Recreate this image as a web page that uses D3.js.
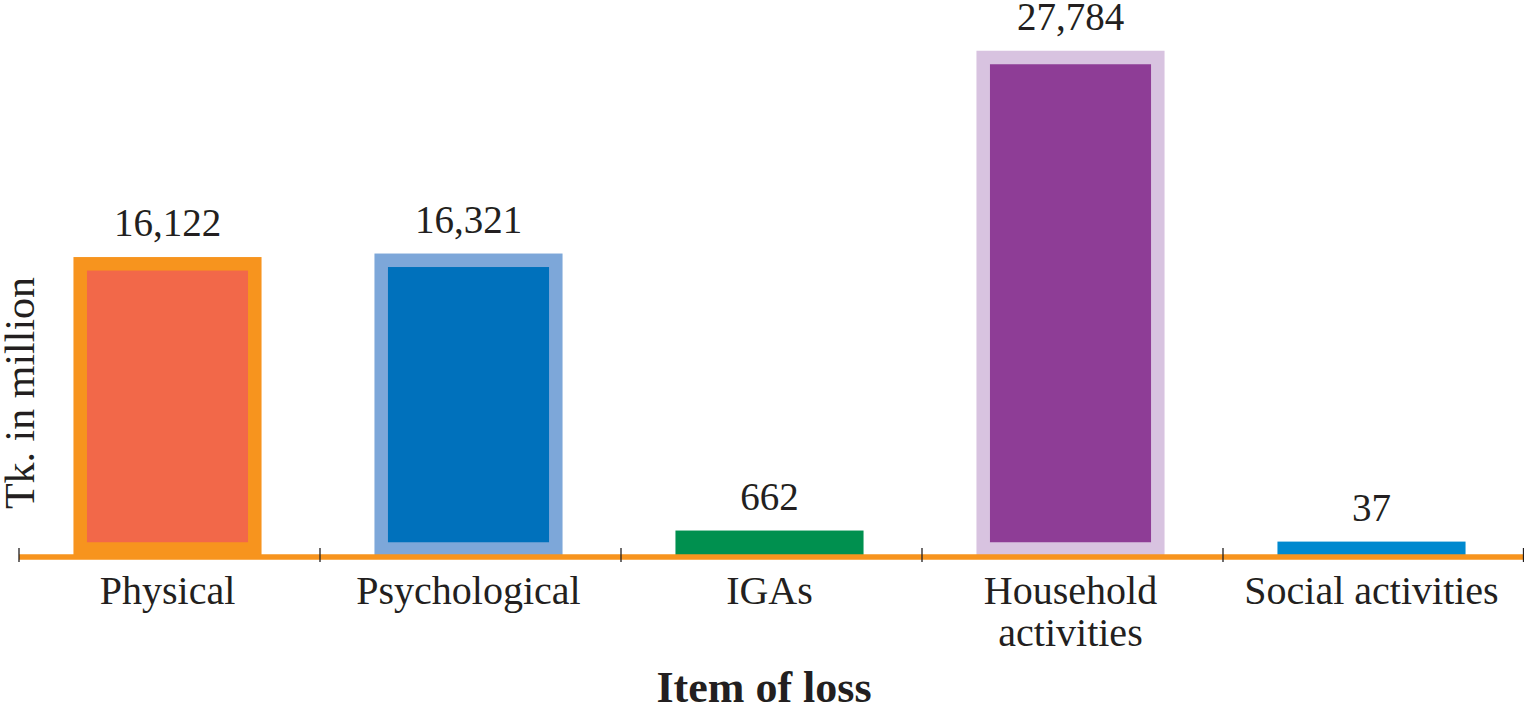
<!DOCTYPE html>
<html>
<head>
<meta charset="utf-8">
<script src="https://cdn.jsdelivr.net/npm/d3@7"></script>
<style>
  body { margin: 0; background: #fff; }
  svg text { font-family: "Liberation Serif", "Times New Roman", serif; fill: #231f20; }
</style>
</head>
<body>
<svg width="1524" height="708"></svg>
<script>
// data
let categories = ["Physical", "Psychological", "IGAs", "Household activities", "Social activities"];
let values = [16122, 16321, 662, 27784, 37];
// category labels split into lines as in the figure
let labelLines = [["Physical"], ["Psychological"], ["IGAs"], ["Household", "activities"], ["Social activities"]];

// colours per bar: fill and outline
let fills = ["#f26849", "#0071bc", "#00904f", "#8e3d96", "#0089cf"];
let outlines = ["#f7941e", "#7da7d9", "#00904f", "#d8c3e0", "#0089cf"];

let svg = d3.select("svg"),
    strokeW = 13.5,
    baseY = 549;

let x = d3.scaleBand()
  .domain(categories)
  .range([17, 1522])
  .paddingInner(0.42)
  .paddingOuter(0.21);

let y = d3.scaleLinear()
  .domain([0, 27784])
  .range([baseY, 57.5]);

let rows = categories.map(function(c, i) {
  return { cat: c, value: values[i], lines: labelLines[i], fill: fills[i], stroke: outlines[i] };
});

// bars
svg.append("g").selectAll("rect")
  .data(rows)
  .enter().append("rect")
  .attr("x", function(d) { return x(d.cat); })
  .attr("y", function(d) { return y(d.value); })
  .attr("width", x.bandwidth())
  .attr("height", function(d) { return baseY - y(d.value); })
  .attr("fill", function(d) { return d.fill; })
  .attr("stroke", function(d) { return d.stroke; })
  .attr("stroke-width", strokeW);

// value labels
svg.append("g").selectAll("text")
  .data(rows)
  .enter().append("text")
  .attr("x", function(d) { return x(d.cat) + x.bandwidth() / 2; })
  .attr("y", function(d) { return y(d.value) - strokeW / 2 - 21; })
  .attr("text-anchor", "middle")
  .style("font-size", "39px")
  .text(function(d) { return d3.format(",")(d.value); });

// axis line and ticks
let step = x.step(),
    gap = (step - x.bandwidth()) / 2;

svg.append("line")
  .attr("x1", 19).attr("x2", 1524)
  .attr("y1", 557).attr("y2", 557)
  .attr("stroke", "#f7941e")
  .attr("stroke-width", 5.5);

let tickXs = categories.map(function(c) { return x(c) - gap + 2; });
tickXs.push(1523.5);

svg.append("g").selectAll("line")
  .data(tickXs)
  .enter().append("line")
  .attr("x1", function(d) { return d; })
  .attr("x2", function(d) { return d; })
  .attr("y1", 548).attr("y2", 562)
  .attr("stroke", "#231f20")
  .attr("stroke-width", 1.3);

// category labels
let catText = svg.append("g").selectAll("text")
  .data(rows)
  .enter().append("text")
  .attr("text-anchor", "middle")
  .attr("y", 604)
  .style("font-size", "40px");

catText.selectAll("tspan")
  .data(function(d) { return d.lines.map(function(l) { return { line: l, cx: x(d.cat) + x.bandwidth() / 2 }; }); })
  .enter().append("tspan")
  .attr("x", function(d) { return d.cx; })
  .attr("dy", function(d, i) { return i === 0 ? 0 : 42; })
  .text(function(d) { return d.line; });

// axis titles
svg.append("text")
  .attr("transform", "translate(34,393) rotate(-90)")
  .attr("text-anchor", "middle")
  .style("font-size", "42px")
  .text("Tk. in million");

svg.append("text")
  .attr("x", 764)
  .attr("y", 702)
  .attr("text-anchor", "middle")
  .style("font-size", "44px")
  .style("font-weight", "bold")
  .text("Item of loss");
</script>
</body>
</html>
